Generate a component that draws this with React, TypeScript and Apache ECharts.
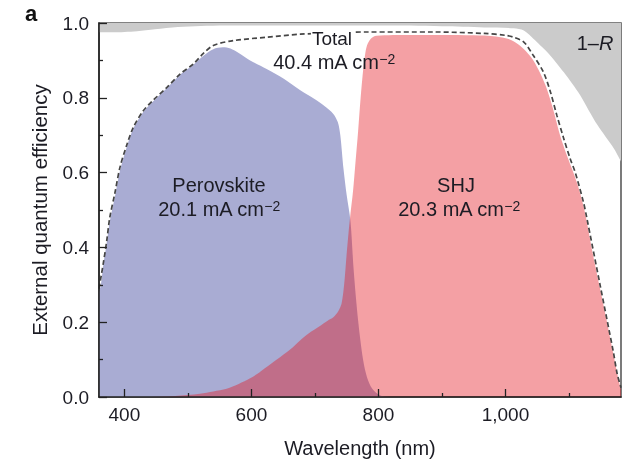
import React, { useEffect, useRef } from 'react';
import * as echarts from 'echarts';

const FONT = '"Liberation Sans", Arial, Helvetica, sans-serif';
const TEXT = '#1c1c24';

// x axis (wavelength, nm)
const xMin = 360;
const xMax = 1182;
const xMajorTicks = [400, 600, 800, 1000];
const xMinorTicks = [500, 700, 900, 1100];

// 1 - R (the grey region lies between this curve and 1.0)
const oneMinusR: [number, number][] = [
  [360, 0.975], [380, 0.975], [400, 0.976], [420, 0.978], [448, 0.983], [484, 0.989],
  [520, 0.992], [600, 0.993], [700, 0.993], [800, 0.993], [900, 0.991], [967, 0.988],
  [1013, 0.986], [1029, 0.98], [1044, 0.958], [1055, 0.94], [1066, 0.922], [1079, 0.896],
  [1092, 0.868], [1105, 0.838], [1118, 0.806], [1131, 0.767], [1145, 0.727], [1158, 0.695],
  [1171, 0.664], [1182, 0.63],
];

// Perovskite top cell EQE
const perovskite: [number, number][] = [
  [360, 0.28], [363, 0.3], [367, 0.356], [372, 0.41], [377, 0.47], [385, 0.535], [393, 0.605],
  [404, 0.67], [414, 0.718], [430, 0.763], [445, 0.79], [467, 0.826], [488, 0.862],
  [509, 0.889], [524, 0.912], [540, 0.93], [555, 0.935], [567, 0.932], [580, 0.92],
  [598, 0.9], [624, 0.877], [651, 0.851], [677, 0.82], [700, 0.796], [715, 0.778],
  [729, 0.757], [736, 0.735], [740, 0.7], [745, 0.61], [750, 0.54], [756, 0.47],
  [761, 0.34], [768, 0.205], [776, 0.098], [782, 0.053], [790, 0.023], [803, 0.004],
  [820, 0], [1182, 0],
];

// Silicon heterojunction (SHJ) bottom cell EQE
const shj: [number, number][] = [
  [360, 0], [430, 0], [480, 0.003], [519, 0.009], [540, 0.015], [561, 0.022], [580, 0.035],
  [598, 0.05], [612, 0.065], [624, 0.08], [640, 0.1], [661, 0.127], [677, 0.152],
  [690, 0.17], [708, 0.19], [720, 0.204], [729, 0.213], [737, 0.23], [742, 0.25],
  [746, 0.3], [750, 0.383], [753, 0.44], [756, 0.49], [760, 0.55], [764, 0.63],
  [768, 0.71], [772, 0.8], [776, 0.875], [779, 0.915], [782, 0.94], [788, 0.958],
  [797, 0.966], [850, 0.968], [900, 0.968], [950, 0.967], [985, 0.964], [1005, 0.957],
  [1020, 0.943], [1032, 0.925], [1044, 0.9], [1055, 0.865], [1065, 0.825], [1075, 0.77],
  [1086, 0.7], [1097, 0.645], [1107, 0.6], [1115, 0.56], [1123, 0.51], [1128, 0.47],
  [1138, 0.38], [1149, 0.29], [1160, 0.2], [1170, 0.115], [1177, 0.055], [1182, 0.02],
];

// Total (tandem) EQE, dashed
const total: [number, number][] = [
  [360, 0.29], [367, 0.36], [372, 0.415], [377, 0.48], [385, 0.545], [393, 0.614],
  [404, 0.675], [414, 0.721], [430, 0.766], [445, 0.793], [467, 0.828], [488, 0.864],
  [509, 0.891], [524, 0.918], [540, 0.94], [572, 0.953], [624, 0.962], [677, 0.97],
  [730, 0.974], [782, 0.976], [887, 0.976], [967, 0.972], [1000, 0.967], [1013, 0.962],
  [1029, 0.949], [1044, 0.913], [1060, 0.868], [1071, 0.815], [1081, 0.753], [1092, 0.69],
  [1102, 0.637], [1110, 0.6], [1123, 0.52], [1128, 0.48], [1149, 0.3], [1170, 0.12],
  [1176, 0.062], [1182, 0.025],
];

const formatX = (v: number) => (v >= 1000 ? v.toLocaleString('en-US') : String(v));

export default function App() {
  const ref = useRef<HTMLDivElement>(null);
  useEffect(() => {
    if (!ref.current) return;
    const chart = echarts.init(ref.current, undefined, { renderer: 'svg' });
    const sup = { fontSize: 14, verticalAlign: 'top', fontFamily: FONT, fill: TEXT, color: TEXT };
    const main = { fontSize: 20, fontFamily: FONT, fill: TEXT, color: TEXT };
    const textEl = (x: number, y: number, text: string, rich: any, extra: any = {}) => ({
      type: 'text',
      x,
      y,
      z: 100,
      style: {
        text,
        rich,
        fontSize: 20,
        fontFamily: FONT,
        fill: TEXT,
        align: 'center',
        verticalAlign: 'middle',
        ...extra,
      },
    });
    chart.setOption({
      animation: false,
      textStyle: { fontFamily: FONT },
      grid: {
        left: 99,
        right: 5,
        top: 23,
        bottom: 67,
        show: true,
        borderColor: '#5a5a5a',
        borderWidth: 1.6,
        backgroundColor: 'transparent',
      },
      xAxis: [
        {
          type: 'value',
          min: xMin,
          max: xMax,
          position: 'bottom',
          axisLine: { show: true, onZero: false, lineStyle: { color: '#222', width: 1.6 } },
          axisTick: { show: true, inside: true, length: 8, customValues: xMajorTicks, lineStyle: { color: '#222', width: 1.3 } },
          axisLabel: { customValues: xMajorTicks, formatter: formatX, fontSize: 19, color: TEXT, margin: 8, fontFamily: FONT },
          splitLine: { show: false },
          name: 'Wavelength (nm)',
          nameLocation: 'middle',
          nameGap: 41,
          nameTextStyle: { fontSize: 20, color: TEXT, fontFamily: FONT },
          z: 5,
        },
        {
          type: 'value',
          min: xMin,
          max: xMax,
          position: 'bottom',
          axisLine: { show: false, onZero: false },
          axisTick: { show: true, inside: true, length: 4, customValues: xMinorTicks, lineStyle: { color: '#222', width: 1.3 } },
          axisLabel: { show: false },
          splitLine: { show: false },
          z: 5,
        },
      ],
      yAxis: {
        type: 'value',
        min: 0,
        max: 1,
        interval: 0.2,
        axisLine: { show: true, lineStyle: { color: '#222', width: 1.6 } },
        axisTick: { show: true, inside: true, length: 8, lineStyle: { color: '#222', width: 1.3 } },
        minorTick: { show: true, splitNumber: 2, length: 4, lineStyle: { color: '#222', width: 1.3 } },
        axisLabel: { formatter: (v: number) => v.toFixed(1), fontSize: 19, color: TEXT, margin: 10, fontFamily: FONT },
        splitLine: { show: false },
        name: 'External quantum efficiency',
        nameLocation: 'middle',
        nameGap: 49,
        nameTextStyle: { fontSize: 20.5, color: TEXT, fontFamily: FONT },
        z: 5,
      },
      series: [
        {
          name: '1−R',
          type: 'line',
          data: oneMinusR,
          smooth: 0.3,
          symbol: 'none',
          lineStyle: { width: 0 },
          areaStyle: { origin: 'end', color: '#cbcbcb', opacity: 1 },
          z: 1,
        },
        {
          name: 'Perovskite',
          type: 'line',
          data: perovskite,
          smooth: 0.3,
          symbol: 'none',
          lineStyle: { width: 0 },
          areaStyle: { color: '#a9acd3', opacity: 1 },
          z: 2,
        },
        {
          name: 'SHJ',
          type: 'line',
          data: shj,
          smooth: 0.3,
          symbol: 'none',
          lineStyle: { width: 0 },
          areaStyle: { color: 'rgb(227,17,27)', opacity: 0.4 },
          z: 3,
        },
        {
          name: 'Total',
          type: 'line',
          data: total,
          smooth: 0.3,
          symbol: 'none',
          lineStyle: { color: '#454545', width: 1.7, type: [5, 3] },
          z: 4,
        },
      ],
      graphic: [
        textEl(31, 13, 'a', undefined, { fontWeight: 'bold', fontSize: 22, fill: '#111' }),
        textEl(332, 38, 'Total', undefined, { fontSize: 19, backgroundColor: '#fff', padding: [0, 1, 0, 1] }),
        textEl(334, 62, '{m|40.4 mA cm}{s|−2}', { m: main, s: sup }),
        textEl(219, 185, 'Perovskite', undefined),
        textEl(219, 209, '{m|20.1 mA cm}{s|−2}', { m: main, s: sup }),
        textEl(456, 185, 'SHJ', undefined),
        textEl(459, 209, '{m|20.3 mA cm}{s|−2}', { m: main, s: sup }),
        textEl(595, 43, '{m|1–}{i|R}', { m: main, i: { ...main, fontStyle: 'italic' } }),
      ],
    });
    return () => chart.dispose();
  }, []);
  return <div ref={ref} style={{ position: 'fixed', left: 0, top: 0, width: 626, height: 464 }} />;
}
